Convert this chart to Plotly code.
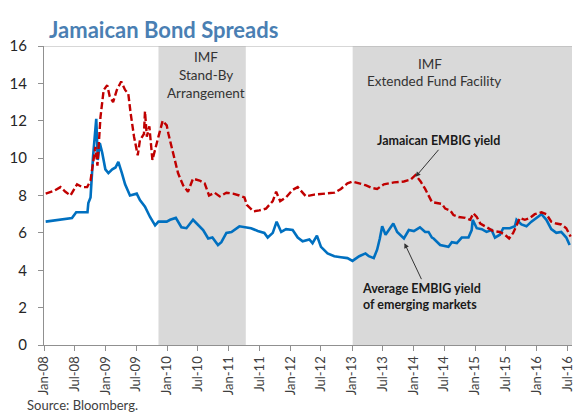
import plotly.graph_objects as go

# Average EMBIG yield of emerging markets (%)
em_dates = [
    "2008-01-11", "2008-04-08", "2008-06-15", "2008-07-10", "2008-09-15", "2008-09-20",
    "2008-10-03", "2008-10-18", "2008-11-06", "2008-11-15", "2008-11-27", "2008-12-11",
    "2008-12-30", "2009-01-17", "2009-02-09", "2009-02-28", "2009-03-17", "2009-04-07",
    "2009-04-26", "2009-05-25", "2009-07-04", "2009-07-23", "2009-08-22", "2009-09-21",
    "2009-10-21", "2009-11-10", "2009-12-09", "2009-12-29", "2010-01-18", "2010-02-21",
    "2010-03-26", "2010-04-25", "2010-06-03", "2010-07-03", "2010-08-02", "2010-09-01",
    "2010-09-26", "2010-10-29", "2010-11-18", "2010-12-18", "2011-01-17", "2011-03-05",
    "2011-04-10", "2011-05-13", "2011-06-22", "2011-07-31", "2011-08-20", "2011-09-19",
    "2011-10-12", "2011-11-08", "2011-12-07", "2012-01-15", "2012-02-14", "2012-03-14",
    "2012-04-23", "2012-05-12", "2012-06-07", "2012-07-01", "2012-08-09", "2012-09-18",
    "2012-10-27", "2012-12-05", "2013-01-04", "2013-02-13", "2013-03-22", "2013-04-11",
    "2013-05-10", "2013-05-30", "2013-06-15", "2013-06-29", "2013-07-19", "2013-08-08",
    "2013-09-03", "2013-09-26", "2013-11-05", "2013-12-04", "2014-01-03", "2014-02-08",
    "2014-03-11", "2014-03-31", "2014-04-20", "2014-04-30", "2014-06-08", "2014-07-27",
    "2014-08-16", "2014-09-15", "2014-10-14", "2014-11-23", "2014-12-12", "2014-12-18",
    "2015-01-11", "2015-02-10", "2015-03-10", "2015-04-09", "2015-04-29", "2015-05-28",
    "2015-06-17", "2015-07-26", "2015-08-25", "2015-09-04", "2015-10-03", "2015-11-02",
    "2015-12-01", "2015-12-31", "2016-01-30", "2016-02-28", "2016-03-28", "2016-04-27",
    "2016-05-26", "2016-06-25", "2016-07-15",
]
em_yield = [
    6.6, 6.7, 6.8, 7.1, 7.1, 7.6,
    7.9, 10.1, 12.1, 9.9, 10.8, 10.3,
    9.4, 9.2, 9.4, 9.5, 9.8, 9.2,
    8.6, 8.0, 8.1, 7.75, 7.4, 6.85,
    6.4, 6.6, 6.6, 6.6, 6.7, 6.8,
    6.3, 6.25, 6.7, 6.4, 6.15, 5.7,
    5.75, 5.35, 5.5, 6.0, 6.05, 6.35,
    6.3, 6.25, 6.1, 6.0, 5.75, 6.0,
    6.6, 6.05, 6.2, 6.15, 5.75, 5.55,
    5.65, 5.45, 5.85, 5.25, 4.9, 4.75,
    4.7, 4.65, 4.5, 4.75, 4.9, 4.75,
    4.65, 5.1, 5.7, 6.35, 5.9, 6.15,
    6.5, 6.05, 5.7, 6.15, 6.1, 6.3,
    6.05, 6.05, 5.75, 5.7, 5.35, 5.25,
    5.5, 5.45, 5.75, 5.75, 6.15, 6.7,
    6.25, 6.2, 6.05, 6.15, 5.75, 5.9,
    6.25, 6.25, 6.35, 6.7, 6.45, 6.35,
    6.6, 6.8, 7.0, 6.7, 6.2, 6.0,
    6.05, 5.75, 5.35,
]

# Jamaican EMBIG yield (%)
jam_dates = [
    "2008-01-11", "2008-02-29", "2008-04-08", "2008-05-07", "2008-06-06", "2008-07-15",
    "2008-08-14", "2008-09-13", "2008-10-03", "2008-10-18", "2008-11-01", "2008-11-13",
    "2008-11-25", "2008-12-01", "2008-12-20", "2009-01-10", "2009-01-25", "2009-02-14",
    "2009-03-08", "2009-04-03", "2009-04-26", "2009-05-15", "2009-05-29", "2009-06-18",
    "2009-07-10", "2009-07-23", "2009-08-16", "2009-08-22", "2009-09-02", "2009-09-17",
    "2009-10-05", "2009-10-21", "2009-11-10", "2009-12-05", "2009-12-29", "2010-01-08",
    "2010-02-07", "2010-03-06", "2010-04-05", "2010-05-04", "2010-06-03", "2010-07-12",
    "2010-08-11", "2010-09-06", "2010-10-09", "2010-11-08", "2010-12-18", "2011-01-26",
    "2011-03-05", "2011-04-04", "2011-04-18", "2011-05-28", "2011-07-01", "2011-08-10",
    "2011-09-19", "2011-10-09", "2011-11-02", "2011-12-07", "2012-01-15", "2012-02-14",
    "2012-02-24", "2012-04-03", "2012-05-22", "2012-07-20", "2012-09-18", "2012-10-27",
    "2012-12-05", "2013-01-04", "2013-02-13", "2013-03-22", "2013-05-01", "2013-05-30",
    "2013-07-09", "2013-09-07", "2013-11-05", "2013-12-14", "2014-01-13", "2014-02-12",
    "2014-03-11", "2014-03-31", "2014-04-20", "2014-05-19", "2014-06-18", "2014-07-08",
    "2014-08-07", "2014-08-26", "2014-09-25", "2014-11-04", "2014-12-03", "2014-12-22",
    "2015-01-11", "2015-02-01", "2015-03-01", "2015-03-20", "2015-04-19", "2015-05-28",
    "2015-06-27", "2015-07-22", "2015-08-15", "2015-09-04", "2015-09-24", "2015-10-23",
    "2015-11-22", "2015-12-21", "2016-01-30", "2016-02-28", "2016-03-28", "2016-04-27",
    "2016-05-26", "2016-06-25", "2016-07-21",
]
jam_yield = [
    8.1, 8.25, 8.45, 8.2, 8.0, 8.6,
    8.45, 8.45, 8.8, 9.7, 10.6, 9.6,
    11.0, 12.2, 13.65, 13.9, 13.3, 13.0,
    13.65, 14.1, 13.65, 13.45, 12.4, 11.15,
    10.15, 10.95, 11.3, 12.5, 11.15, 11.7,
    9.9, 10.5, 11.15, 12.0, 11.75, 11.3,
    10.1, 9.2, 8.55, 8.2, 8.9, 8.8,
    8.65, 8.0, 8.15, 7.95, 8.15, 8.1,
    8.0, 7.9, 7.5, 7.15, 7.2, 7.3,
    7.7, 8.2, 7.7, 7.9, 8.3, 8.45,
    8.35, 7.95, 8.05, 8.1, 8.15, 8.35,
    8.65, 8.75, 8.65, 8.55, 8.4, 8.35,
    8.6, 8.7, 8.75, 8.85, 9.1, 8.75,
    8.35, 8.0, 7.65, 7.6, 7.55, 7.3,
    7.2, 6.95, 6.85, 6.8, 6.7, 7.05,
    6.85, 6.5, 6.35, 6.25, 6.1, 6.05,
    5.9, 5.7, 6.0, 6.4, 6.8, 6.7,
    6.8, 7.0, 7.1, 7.0, 6.6, 6.5,
    6.45, 6.25, 5.8,
]

# IMF programme periods (shaded)
programme_start = ["2009-11-10", "2013-01-05"]
programme_end = ["2011-04-12", "2016-08-15"]
programme_lines = [["IMF", "Stand-By", "Arrangement"], ["IMF", "Extended Fund Facility"]]

FONT = "Lato, 'Open Sans', sans-serif"
TXT = "#404040"

# plot area in pixels: left 44, right 574, top 46, bottom 345
PL, PW, PB, PH = 44, 530, 345, 299


def px(x):
    return (x - PL) / PW


def py(y):
    return (PB - y) / PH


# label line positions (pixel centres) for each programme
label_pos = [[(207, 57), (207, 75), (207, 93)], [(431, 64), (435, 81)]]

fig = go.Figure()

for start, end, lines, pos in zip(programme_start, programme_end, programme_lines, label_pos):
    fig.add_shape(type="rect", xref="x", yref="y", x0=start, x1=end, y0=0, y1=16,
                  fillcolor="#d9d9d9", line_width=0, layer="below")
    for text, (lx, ly) in zip(lines, pos):
        fig.add_annotation(x=px(lx), y=py(ly), xref="paper", yref="paper", text=text,
                           showarrow=False, xanchor="center", yanchor="middle",
                           font=dict(family=FONT, size=13.5, color="#333333"))

fig.add_trace(go.Scatter(x=em_dates, y=em_yield, mode="lines",
                         name="Average EMBIG yield of emerging markets",
                         line=dict(color="#0070c0", width=2.6)))
fig.add_trace(go.Scatter(x=jam_dates, y=jam_yield, mode="lines",
                         name="Jamaican EMBIG yield",
                         line=dict(color="#c00000", width=2.4, dash="7px,3px")))

# top border of plot area
fig.add_shape(type="line", xref="paper", yref="y", x0=0, x1=1, y0=16, y1=16,
              line=dict(color="#b0b0b0", width=1.2))

fig.add_annotation(x="2014-01-13", y=9.0, ax=23, ay=-27, xref="x", yref="y",
                   text="<b>Jamaican EMBIG yield</b>", showarrow=True,
                   arrowhead=2, arrowsize=1, arrowwidth=1, arrowcolor="#333333",
                   yanchor="bottom", xanchor="center",
                   font=dict(family=FONT, size=12.5, color="#1a1a1a"))
fig.add_annotation(x="2013-11-08", y=5.45, ax=17, ay=36, xref="x", yref="y",
                   text="<b>Average EMBIG yield<br>of emerging markets</b>", showarrow=True,
                   arrowhead=2, arrowsize=1, arrowwidth=1, arrowcolor="#333333",
                   yanchor="top", xanchor="center", align="left",
                   font=dict(family=FONT, size=12.5, color="#1a1a1a"))

fig.add_annotation(x=px(47), y=py(29), xref="paper", yref="paper",
                   text="<b>Jamaican Bond Spreads</b>",
                   showarrow=False, xanchor="left", yanchor="middle",
                   font=dict(family=FONT, size=22, color="#4a7fb3"))
fig.add_annotation(x=px(25), y=py(405), xref="paper", yref="paper",
                   text="Source: Bloomberg.", showarrow=False,
                   xanchor="left", yanchor="middle",
                   font=dict(family=FONT, size=13, color=TXT))

fig.update_layout(
    width=574, height=415,
    margin=dict(l=PL, r=0, t=46, b=70),
    paper_bgcolor="white", plot_bgcolor="white",
    showlegend=False,
    font=dict(family=FONT, color=TXT),
)

fig.update_xaxes(
    type="date", range=["2008-01-01", "2016-07-29"],
    tick0="2008-01-01", dtick="M6", tickformat="%b-%y", tickangle=-90,
    ticks="outside", ticklen=5, tickcolor="#909090",
    showline=True, linecolor="#909090", linewidth=1.2,
    showgrid=False, zeroline=False, ticklabeloverflow="allow",
    tickfont=dict(family=FONT, size=13, color=TXT),
)
fig.update_yaxes(
    range=[0, 16], dtick=2, ticks="outside", ticklen=5, tickcolor="#909090",
    showline=True, linecolor="#909090", linewidth=1.2,
    showgrid=False, zeroline=False, ticklabelstandoff=8,
    tickfont=dict(family=FONT, size=15, color="#262626"),
)

fig.write_html("out.html")
